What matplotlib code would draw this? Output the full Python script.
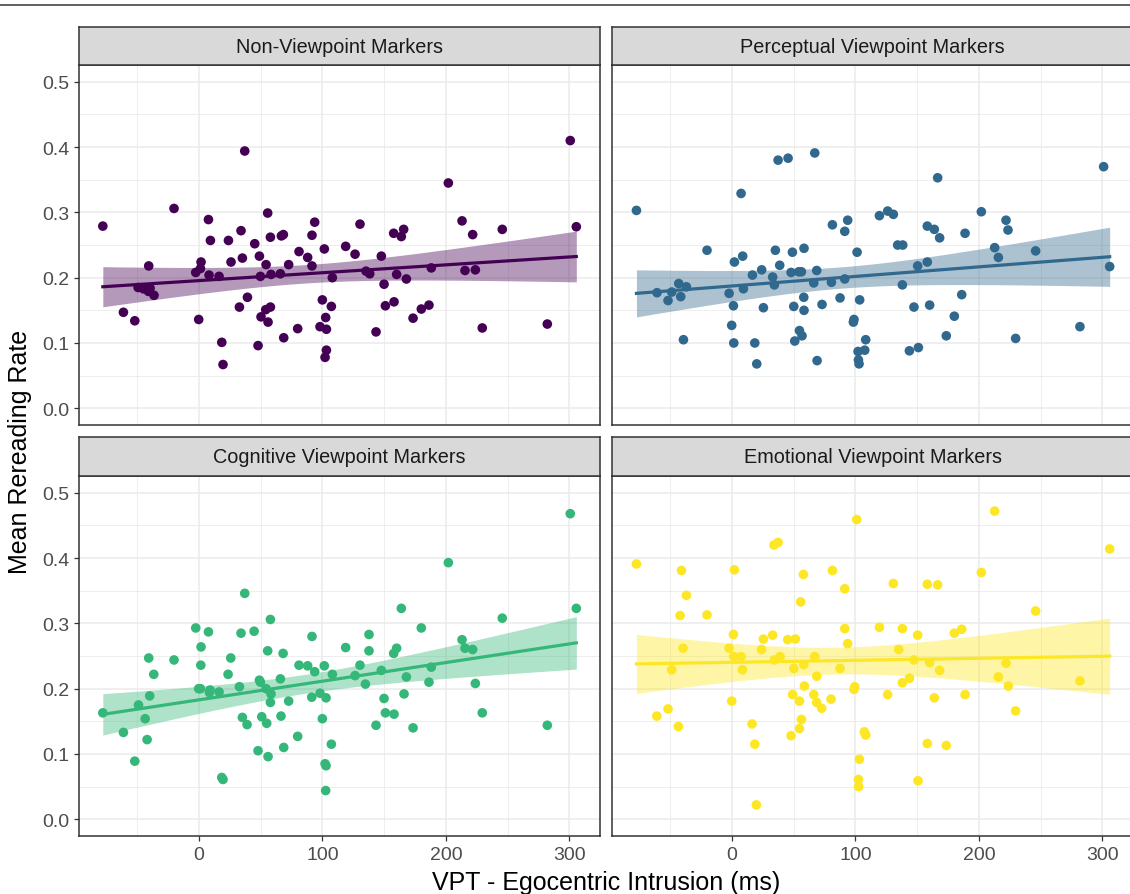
import numpy as np
import matplotlib
matplotlib.use("Agg")
import matplotlib.pyplot as plt
from matplotlib.lines import Line2D

plt.rcParams['font.family'] = ['Liberation Sans', 'DejaVu Sans']

# panel titles and colours (viridis, 4 levels)
panels = ["Non-Viewpoint Markers", "Perceptual Viewpoint Markers",
          "Cognitive Viewpoint Markers", "Emotional Viewpoint Markers"]
colors = ["#440154", "#31688E", "#35B779", "#FDE725"]

# values, per panel
non_x = [-78.0, -20.3, 37.0, 300.8, 202.0, 55.6, 7.6, 93.7, 130.4, 305.7, 213.1, 34.0, 9.2, 23.8,
         57.8, 66.7, 68.3, 91.5, 157.7, 165.8, 163.9, 221.7, 245.7, 45.1, 101.5, 118.8, 81.0,
         126.4, 147.7, 48.9, 35.1, 88.0, 25.9, 1.6, -40.8, 54.3, 72.6, 91.5, 1.1, -2.7, 8.1,
         16.2, 49.7, 58.3, 65.9, 108.0, 135.3, 138.3, 160.1, 168.0, 188.2, 215.5, 223.9, -49.4,
         -45.1, -41.0, -36.5, -39.7, 149.9, 39.2, 99.9, 32.7, 54.0, 57.8, 107.2, 151.0, 158.0,
         186.3, 180.1, -61.3, -52.1, -0.3, 50.2, 55.9, 102.6, 173.4, 98.0, 103.2, 79.9, 68.6,
         143.4, 229.5, 282.2, 18.4, 47.8, 103.2, 102.1, 19.4]
non_y = [0.279, 0.306, 0.394, 0.410, 0.345, 0.299, 0.289, 0.285, 0.282, 0.278, 0.287, 0.272,
         0.257, 0.257, 0.262, 0.264, 0.266, 0.265, 0.268, 0.274, 0.263, 0.266, 0.274, 0.252,
         0.244, 0.248, 0.240, 0.236, 0.233, 0.233, 0.230, 0.231, 0.224, 0.224, 0.218, 0.220,
         0.220, 0.218, 0.214, 0.208, 0.204, 0.202, 0.202, 0.205, 0.206, 0.200, 0.210, 0.206,
         0.205, 0.198, 0.215, 0.211, 0.212, 0.185, 0.183, 0.179, 0.173, 0.184, 0.190, 0.170,
         0.166, 0.155, 0.151, 0.155, 0.156, 0.157, 0.163, 0.158, 0.152, 0.147, 0.134, 0.136,
         0.140, 0.132, 0.139, 0.138, 0.125, 0.121, 0.122, 0.108, 0.117, 0.123, 0.129, 0.101,
         0.096, 0.089, 0.078, 0.067]

perc_x = [-77.5, 7.3, 37.3, 45.4, 67.0, 166.6, 301.1, 119.4, 126.1, 130.7, 202.0, 81.3, 93.7,
          91.3, 158.2, 163.9, 168.2, 188.8, 222.0, 223.6, 134.2, 138.3, -20.3, 35.1, 48.9, 58.3,
          101.3, 212.8, 215.8, 246.0, 1.9, 8.6, 38.6, 150.4, 158.2, 306.0, 16.5, 24.0, 32.9,
          47.8, 54.0, 56.2, 68.6, 34.3, 66.2, 80.5, 91.3, 138.0, -60.8, -51.9, -48.9, -43.2,
          -41.6, -37.0, -2.4, 9.2, 58.1, 87.5, 103.4, 186.1, 1.1, 25.4, 50.0, 58.3, 72.9, 147.4,
          160.1, 98.8, 98.3, 180.1, -0.3, 54.6, 56.7, 50.8, 173.6, 281.9, -39.4, 1.4, 18.4,
          108.3, 229.8, 102.1, 107.5, 143.7, 151.0, 68.9, 102.4, 102.9, 20.0]
perc_y = [0.303, 0.329, 0.380, 0.383, 0.391, 0.353, 0.370, 0.295, 0.302, 0.297, 0.301, 0.281,
          0.288, 0.271, 0.279, 0.274, 0.261, 0.268, 0.288, 0.273, 0.250, 0.250, 0.242, 0.242,
          0.239, 0.245, 0.239, 0.246, 0.231, 0.241, 0.224, 0.233, 0.219, 0.218, 0.224, 0.217,
          0.204, 0.212, 0.201, 0.208, 0.209, 0.209, 0.211, 0.189, 0.192, 0.193, 0.198, 0.189,
          0.177, 0.165, 0.178, 0.191, 0.171, 0.186, 0.176, 0.183, 0.170, 0.169, 0.166, 0.174,
          0.157, 0.154, 0.156, 0.150, 0.159, 0.155, 0.158, 0.136, 0.132, 0.141, 0.127, 0.119,
          0.111, 0.103, 0.111, 0.125, 0.105, 0.100, 0.100, 0.105, 0.107, 0.087, 0.089, 0.088,
          0.093, 0.073, 0.074, 0.068, 0.068]

cog_x = [300.8, 202.0, 37.0, 163.9, 305.7, 245.7, 57.8, -2.7, 7.6, 34.0, 44.6, 91.5, 137.7,
         180.1, 213.1, 215.5, 221.7, 1.6, 55.6, 68.1, 118.8, 137.7, 157.7, 160.1, -40.8, -20.3,
         25.7, 1.4, 81.0, 88.0, 101.5, 130.4, -36.7, 23.5, 93.7, 108.0, 126.4, 147.7, 188.2,
         168.0, 48.9, 49.7, 65.9, 134.8, 186.3, 223.9, -0.3, 1.1, 8.9, 8.4, 16.2, 32.7, 54.3,
         58.3, 98.0, -40.0, -49.1, 91.3, 102.9, 57.8, 72.6, 149.9, 166.1, -78.0, -43.7, 35.1,
         50.8, 66.4, 99.9, 151.0, 158.0, 229.5, 38.9, 54.8, 143.4, 173.4, 282.2, -61.3, -42.1,
         79.9, 107.2, 68.6, 47.8, 55.9, -52.1, 102.1, 102.9, 18.4, 19.4, 102.6]
cog_y = [0.468, 0.393, 0.346, 0.323, 0.323, 0.308, 0.306, 0.293, 0.287, 0.285, 0.288, 0.280,
         0.283, 0.293, 0.275, 0.262, 0.260, 0.264, 0.258, 0.254, 0.263, 0.258, 0.254, 0.262,
         0.247, 0.244, 0.247, 0.236, 0.236, 0.235, 0.235, 0.236, 0.222, 0.222, 0.226, 0.222,
         0.220, 0.228, 0.233, 0.218, 0.213, 0.210, 0.215, 0.207, 0.210, 0.208, 0.200, 0.200,
         0.198, 0.194, 0.195, 0.203, 0.200, 0.192, 0.193, 0.189, 0.175, 0.187, 0.186, 0.179,
         0.181, 0.185, 0.192, 0.163, 0.154, 0.156, 0.157, 0.158, 0.154, 0.163, 0.161, 0.163,
         0.145, 0.147, 0.144, 0.140, 0.144, 0.133, 0.122, 0.127, 0.115, 0.110, 0.105, 0.096,
         0.089, 0.085, 0.082, 0.064, 0.061, 0.044]

emo_x = [212.8, 101.0, 34.0, 37.3, 306.0, -77.5, -41.0, 1.9, 57.8, 81.3, 202.0, 130.7, 158.2,
         166.6, 91.3, -37.0, 55.6, -42.1, -20.3, 246.0, 119.4, 91.3, 138.0, 150.4, 180.1, 186.1,
         1.1, 25.4, 32.9, 45.1, 51.3, 93.7, -39.7, -2.4, 23.8, 135.0, 1.4, 7.3, 38.9, 34.3,
         67.0, 58.1, 147.4, 160.1, 222.0, -48.9, 8.4, 50.0, 87.5, 168.2, 68.6, 215.8, 281.9,
         138.0, 143.7, 58.6, 99.4, 98.8, 223.9, 49.1, 66.2, 126.1, 188.8, -0.3, 54.6, 68.6,
         80.2, 163.9, 72.6, -51.9, -61.0, 229.8, 56.2, -43.5, 16.2, 54.6, 47.8, 107.2, 108.3,
         18.4, 158.2, 173.6, 103.2, 102.4, 150.7, 102.6, 19.7]
emo_y = [0.472, 0.459, 0.420, 0.424, 0.414, 0.391, 0.381, 0.382, 0.375, 0.381, 0.378, 0.361,
         0.360, 0.359, 0.353, 0.343, 0.333, 0.312, 0.313, 0.319, 0.294, 0.292, 0.292, 0.282,
         0.285, 0.291, 0.283, 0.276, 0.282, 0.275, 0.276, 0.269, 0.262, 0.262, 0.260, 0.260,
         0.249, 0.249, 0.249, 0.244, 0.249, 0.237, 0.244, 0.240, 0.239, 0.229, 0.229, 0.231,
         0.231, 0.228, 0.219, 0.218, 0.212, 0.209, 0.216, 0.204, 0.203, 0.199, 0.204, 0.191,
         0.191, 0.191, 0.191, 0.181, 0.181, 0.179, 0.184, 0.186, 0.170, 0.169, 0.158, 0.166,
         0.153, 0.142, 0.146, 0.139, 0.128, 0.134, 0.129, 0.115, 0.116, 0.113, 0.092, 0.061,
         0.059, 0.050, 0.022]

xs = [non_x, perc_x, cog_x, emo_x]
ys = [non_y, perc_y, cog_y, emo_y]

x_ticks = [0, 100, 200, 300]
y_ticks = [0.0, 0.1, 0.2, 0.3, 0.4, 0.5]

W, H = 1130, 895
fig = plt.figure(figsize=(W / 100, H / 100), dpi=100)

# figure-wide rule at the very top
fig.add_artist(Line2D([0, 1], [1 - 6 / H, 1 - 6 / H], color="#444444", lw=1.2))

# panel boxes in pixels: (left, top of strip, top of panel, bottom of panel)
lefts = [79, 612, 79, 612]
strip_tops = [28, 28, 438, 438]
panel_tops = [66, 66, 477, 477]
panel_bots = [426, 426, 837, 837]
pw = 521


def lm_band(x, y, grid, tcrit=1.99):
    # ordinary least squares with 95% confidence band (like geom_smooth(method="lm"))
    b, a = np.polyfit(x, y, 1)
    n = len(x)
    resid = y - (a + b * x)
    s = np.sqrt(np.sum(resid ** 2) / (n - 2))
    sxx = np.sum((x - x.mean()) ** 2)
    fit = a + b * grid
    se = s * np.sqrt(1 / n + (grid - x.mean()) ** 2 / sxx)
    return fit, fit - tcrit * se, fit + tcrit * se


for i in range(4):
    l, st, pt, pb = lefts[i], strip_tops[i], panel_tops[i], panel_bots[i]
    ax = fig.add_axes([l / W, 1 - pb / H, pw / W, (pb - pt) / H])
    x = np.array(xs[i])
    y = np.array(ys[i])

    ax.set_xlim(-97.3, 324.9)
    ax.set_ylim(-0.0256, 0.5257)
    ax.set_xticks(x_ticks)
    ax.set_xticks([-50, 50, 150, 250], minor=True)
    ax.set_yticks(y_ticks)
    ax.set_yticks([0.05, 0.15, 0.25, 0.35, 0.45], minor=True)
    ax.grid(which="major", color="#EBEBEB", lw=1.1)
    ax.grid(which="minor", color="#EBEBEB", lw=0.6)
    ax.set_axisbelow(True)
    for sp in ax.spines.values():
        sp.set_color("#333333")
        sp.set_linewidth(1.1)

    ax.tick_params(which="minor", length=0)
    ax.tick_params(which="major", length=3.6, width=0.9, color="#333333",
                   labelsize=14, labelcolor="#4D4D4D", pad=3.5)
    if i in (0, 2):
        ax.set_yticklabels([f"{v:.1f}" for v in y_ticks])
    else:
        ax.tick_params(axis="y", length=0, labelleft=False)
    if i in (2, 3):
        ax.set_xticklabels([str(v) for v in x_ticks])
    else:
        ax.tick_params(axis="x", length=0, labelbottom=False)

    grid = np.linspace(x.min(), x.max(), 80)
    fit, lo, hi = lm_band(x, y, grid)
    ax.scatter(x, y, s=48, color=colors[i], edgecolors="none", zorder=2)
    ax.fill_between(grid, lo, hi, color=colors[i], alpha=0.4, lw=0, zorder=3)
    ax.plot(grid, fit, color=colors[i], lw=2.3, zorder=4)

    # facet strip
    sax = fig.add_axes([l / W, 1 - pt / H, pw / W, (pt - st) / H])
    sax.set_facecolor("#D9D9D9")
    sax.set_xticks([])
    sax.set_yticks([])
    for sp in sax.spines.values():
        sp.set_color("#333333")
        sp.set_linewidth(1.1)
    sax.text(0.5, 0.5, panels[i], transform=sax.transAxes, ha="center", va="center",
             fontsize=14.3, color="#1A1A1A")

fig.text(20 / W, 1 - 452 / H, "Mean Rereading Rate", rotation=90, ha="center",
         va="center", fontsize=18, color="black")
fig.text(606 / W, 1 - 883 / H, "VPT - Egocentric Intrusion (ms)", ha="center",
         va="center", fontsize=18, color="black")

fig.savefig("out.png", dpi=100)
